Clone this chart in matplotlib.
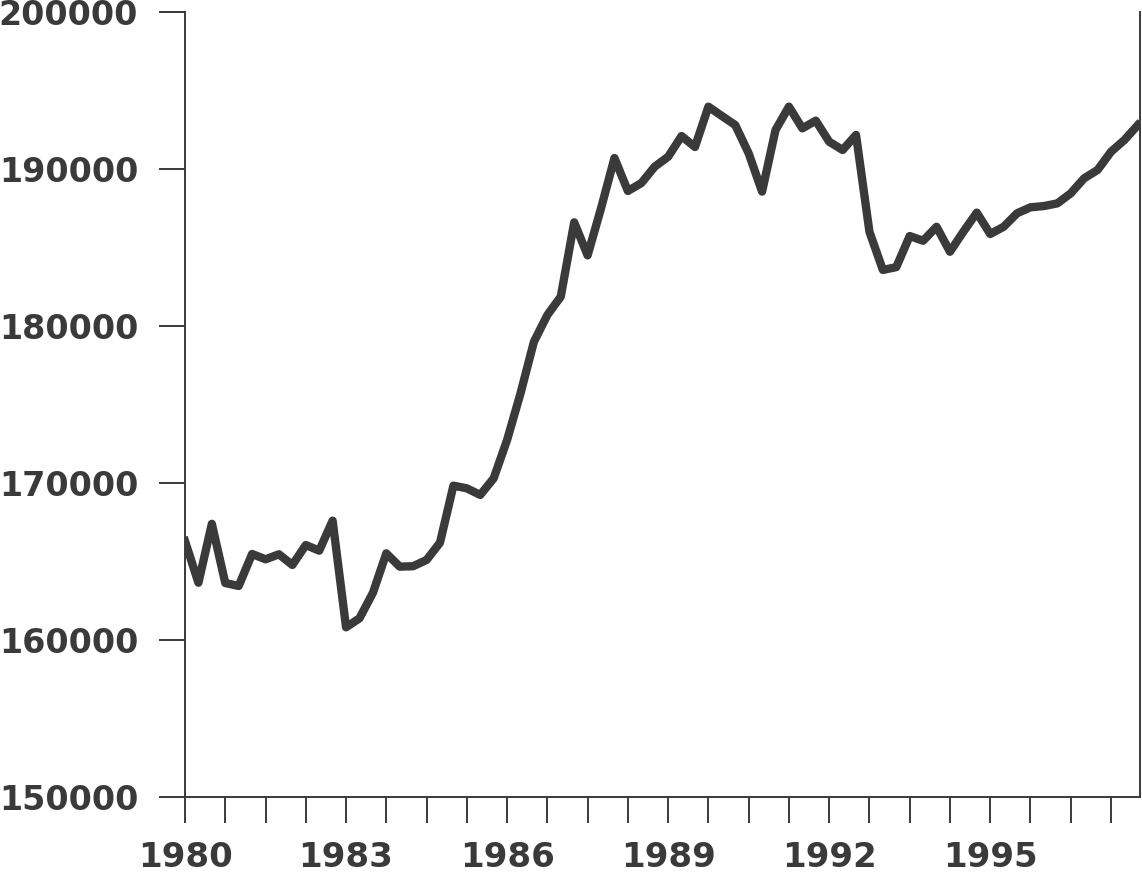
import matplotlib
matplotlib.use("Agg")
import matplotlib.pyplot as plt
import numpy as np

# quarterly values, 1980Q1 .. 1997Q4
values = [
    166300, 163650, 167400, 163630, 163440, 165480, 165140, 165460,
    164780, 166050, 165690, 167600, 160810, 161380, 163000, 165520,
    164670, 164700, 165100, 166200, 169830, 169660, 169240, 170300,
    172740, 175710, 179000, 180700, 181870, 186600, 184500, 187500,
    190700, 188600, 189100, 190150, 190780, 192100, 191400, 193970,
    193380, 192800, 191000, 188560, 192480, 193970, 192590, 193080,
    191740, 191210, 192170, 186000, 183570, 183750, 185730, 185430,
    186320, 184730, 186010, 187220, 185860, 186320, 187180, 187560,
    187640, 187810, 188450, 189410, 189940, 191100, 191850, 192800,
]
start_year = 1980
years = start_year + np.arange(len(values)) / 4

yticks = [150000, 160000, 170000, 180000, 190000, 200000]
xlabel_years = [1980, 1983, 1986, 1989, 1992, 1995]

ink = "#3a3a3a"

fig = plt.figure(figsize=(11.42, 8.75), dpi=100)
ax = fig.add_axes([185 / 1142, 1 - 797 / 875, (1140 - 185) / 1142, (797 - 12) / 875])

ax.plot(years, values, color=ink, linewidth=6.0, solid_joinstyle="round")

ax.set_xlim(1980, 1997.79)
ax.set_ylim(150000, 200000)

# ticks every 3 quarters, labels every 3 years
xt = np.arange(1980, 1997.5, 0.75)
ax.set_xticks(xt)
ax.set_xticklabels([str(int(t)) if float(t).is_integer() and int(t) in xlabel_years else ""
                    for t in xt])
ax.set_yticks(yticks)
ax.set_yticklabels([str(v) for v in yticks])

ax.spines["top"].set_visible(False)
for s in ["left", "bottom", "right"]:
    ax.spines[s].set_color(ink)
    ax.spines[s].set_linewidth(1.4)

ax.tick_params(axis="x", direction="out", length=18.7, width=1.4, color=ink,
               pad=13, labelsize=24.5, labelcolor=ink)
ax.tick_params(axis="y", direction="out", length=18.7, width=1.4, color=ink,
               pad=15, labelsize=24, labelcolor=ink)
for lab in ax.get_xticklabels() + ax.get_yticklabels():
    lab.set_fontweight("bold")
    lab.set_family("DejaVu Sans")

fig.savefig("out.png", dpi=100)
